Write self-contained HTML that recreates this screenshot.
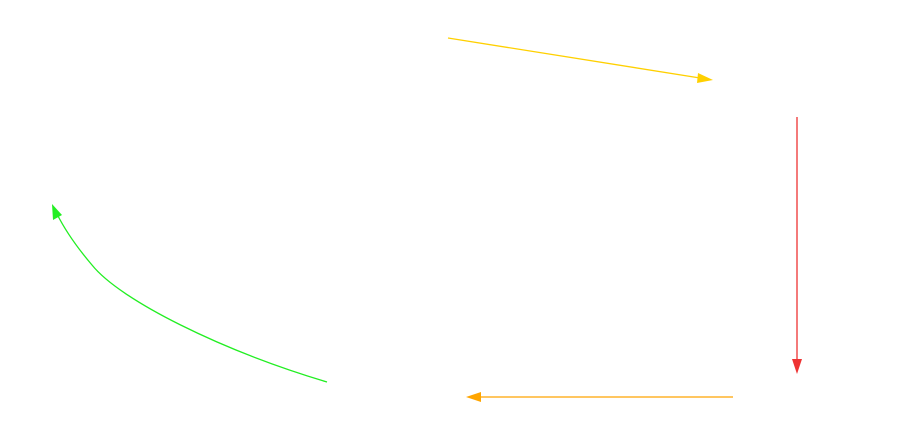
<!DOCTYPE html>
<html><head><meta charset="utf-8"><style>html,body{margin:0;padding:0;background:#fff;}svg{display:block;}</style></head>
<body>
<svg width="904" height="427" viewBox="0 0 904 427" xmlns="http://www.w3.org/2000/svg">
<line x1="448" y1="38" x2="700" y2="78" stroke="#ffd000" stroke-width="1.3"/>
<polygon points="713,80 698,73 697,83" fill="#ffd000"/>
<line x1="797" y1="117" x2="797" y2="362" stroke="#ee3333" stroke-width="1.3"/>
<polygon points="797,374 792,359 802,359" fill="#ee3333"/>
<line x1="733" y1="397" x2="478" y2="397" stroke="#ffa500" stroke-width="1.3"/>
<polygon points="466,397 481,392 481,402" fill="#ffa500"/>
<path d="M327,382 C220,350 120,300 92,265 C75,245 65,230 57,214" fill="none" stroke="#22ee22" stroke-width="1.3"/>
<polygon points="52,204 53,220 62,215" fill="#22ee22"/>
</svg>
</body></html>
